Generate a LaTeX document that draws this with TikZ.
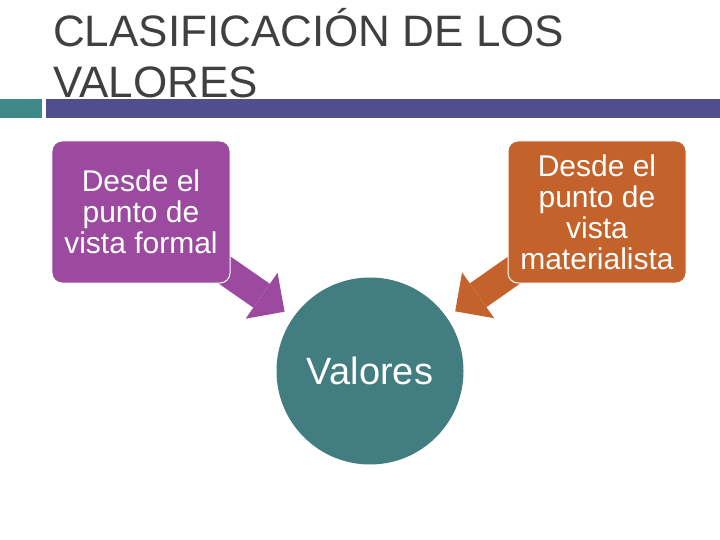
\documentclass[tikz,border=0pt]{standalone}
\usepackage{fontspec}
\setmainfont{Liberation Sans}
\usetikzlibrary{arrows.meta,backgrounds}
\definecolor{titlegray}{HTML}{404040}
\definecolor{barteal}{HTML}{3E8987}
\definecolor{barblue}{HTML}{504E8C}
\definecolor{morado}{HTML}{9C4A9F}
\definecolor{naranja}{HTML}{C4622C}
\definecolor{circteal}{HTML}{427D80}
\begin{document}
\begin{tikzpicture}[x=1bp, y=-1bp, line join=round,
    caja/.style={rounded corners=10bp, draw=white, line width=1bp, text=white, align=center,
      minimum width=178bp, minimum height=142bp, inner sep=0pt, font=\fontsize{30bp}{31bp}\selectfont},
    flecha/.style={line width=29bp, -{Triangle[length=28bp,width=56bp,line width=0pt]}, shorten >=104bp}]
	\useasboundingbox (0,0) rectangle (720,540);
	\fill[barteal] (0,99) rectangle (42,118);
	\fill[barblue] (46,99) rectangle (720,118);
	\node[anchor=base west, inner sep=0pt, align=left, text=titlegray,
	  font=\fontsize{44bp}{51bp}\selectfont] (titulo) at (53,98) {CLASIFICACIÓN DE LOS\\VALORES};
	\node[caja, fill=morado] (formal) at (141,212) {Desde el\\punto de\\vista formal};
	\node[caja, fill=naranja] (material) at (597,212) {Desde el\\punto de\\vista\\materialista};
	\node[circle, fill=circteal, minimum size=187bp, inner sep=0pt, text=white,
	  font=\fontsize{38bp}{40bp}\selectfont] (valores) at (370,371) {Valores};
	\begin{pgfonlayer}{background}
		\draw[flecha, morado] (formal.center) -- (valores.center);
		\draw[flecha, naranja] (material.center) -- (valores.center);
	\end{pgfonlayer}
\end{tikzpicture}
\end{document}
